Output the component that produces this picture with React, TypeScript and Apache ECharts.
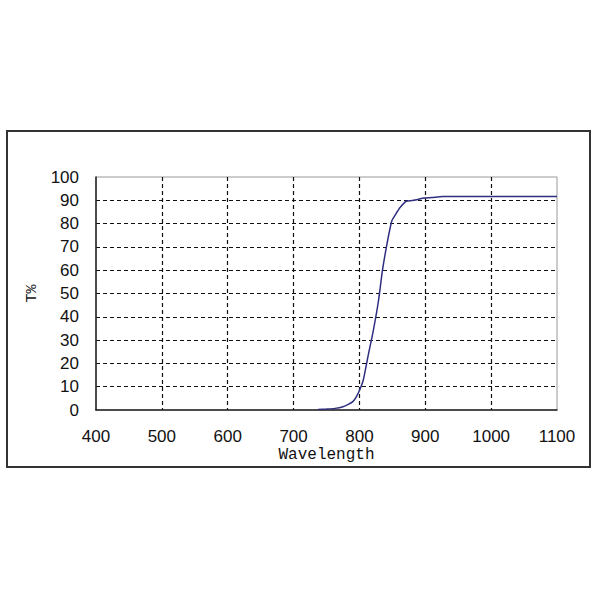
import React, { useEffect, useRef } from "react";
import * as echarts from "echarts";

const wavelengths = [737, 750, 763, 775, 783, 790, 795, 801, 806, 813, 821, 829, 835, 842, 849, 855, 862, 871, 880, 887, 898, 910, 926, 1000, 1100];
const transmission = [0.2, 0.4, 0.7, 1.4, 2.4, 3.6, 5.5, 9, 13, 23, 34, 47, 60, 71.5, 81, 84, 87, 89.6, 89.9, 90.2, 91, 91.2, 91.6, 91.6, 91.6];
const xTicks = [400, 500, 600, 700, 800, 900, 1000, 1100];
const yTicks = [0, 10, 20, 30, 40, 50, 60, 70, 80, 90, 100];

export default function App() {
  const ref = useRef<HTMLDivElement>(null);
  useEffect(() => {
    if (!ref.current) return;
    const chart = echarts.init(ref.current, null, { renderer: "svg" });
    const data = wavelengths.map((w, i) => [w, transmission[i]]);
    chart.setOption({
      animation: false,
      backgroundColor: "#ffffff",
      graphic: [
        {
          type: "rect",
          shape: { x: 7, y: 131, width: 583, height: 336 },
          style: { fill: "none", stroke: "#333333", lineWidth: 2 },
        },
      ],
      grid: {
        left: 96,
        top: 177,
        width: 461,
        height: 233,
        show: true,
        borderColor: "#999999",
        borderWidth: 1,
        backgroundColor: "transparent",
      },
      xAxis: {
        type: "value",
        min: xTicks[0],
        max: xTicks[xTicks.length - 1],
        interval: 100,
        name: "Wavelength",
        nameLocation: "middle",
        nameGap: 37,
        nameTextStyle: { fontFamily: "Liberation Mono", fontSize: 16, color: "#111" },
        axisLine: { show: true, lineStyle: { color: "#222", width: 1.5 } },
        axisTick: { show: false },
        axisLabel: {
          fontFamily: "Liberation Sans",
          fontSize: 17,
          color: "#111",
          margin: 18,
          formatter: (v: number) => String(v),
        },
        splitLine: {
          show: true,
          showMinLine: false,
          showMaxLine: false,
          lineStyle: { color: "#111", type: [4, 3], width: 1.2 },
        },
      },
      yAxis: {
        type: "value",
        min: yTicks[0],
        max: yTicks[yTicks.length - 1],
        interval: 10,
        name: "T%",
        nameLocation: "middle",
        nameGap: 54,
        nameRotate: 90,
        nameTextStyle: { fontFamily: "Liberation Mono", fontSize: 15, color: "#111" },
        axisLine: { show: true, lineStyle: { color: "#222", width: 1.5 } },
        axisTick: { show: false },
        axisLabel: {
          fontFamily: "Liberation Sans",
          fontSize: 17,
          color: "#111",
          margin: 17,
          formatter: (v: number) => String(v),
        },
        splitLine: {
          show: true,
          showMinLine: false,
          showMaxLine: false,
          lineStyle: { color: "#111", type: [4, 3], width: 1.2 },
        },
      },
      series: [
        {
          type: "line",
          data,
          showSymbol: false,
          smooth: 0.2,
          lineStyle: { color: "#2f2f80", width: 1.5 },
        },
      ],
    });
    return () => chart.dispose();
  }, []);
  return (
    <div
      ref={ref}
      style={{ position: "fixed", left: 0, top: 0, width: 600, height: 600 }}
    />
  );
}
